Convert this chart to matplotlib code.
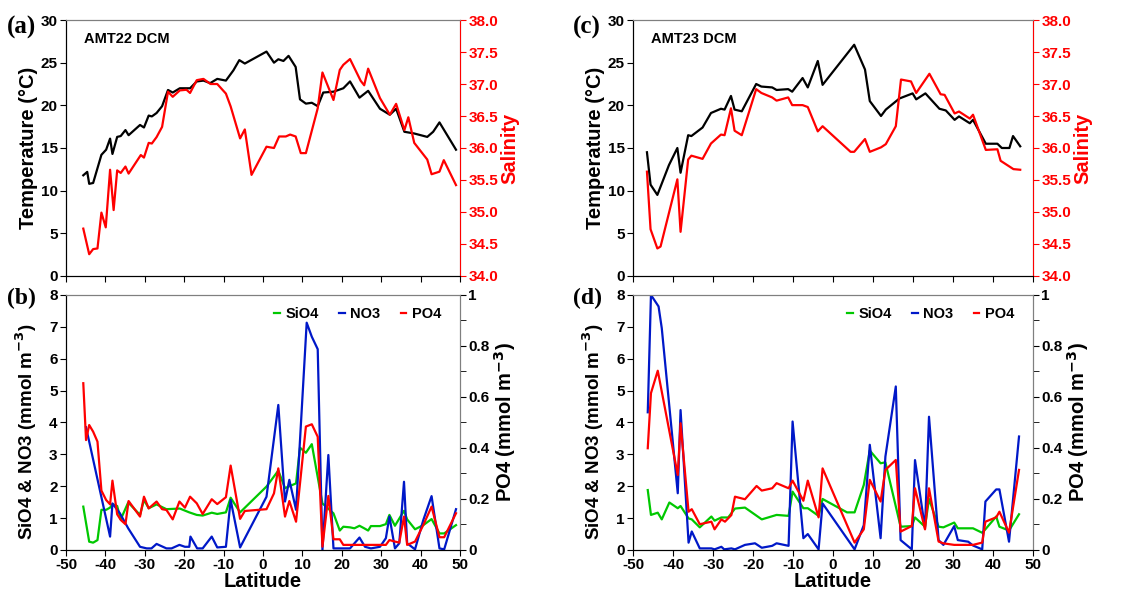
import numpy as np
import matplotlib
matplotlib.use("Agg")
import matplotlib.pyplot as plt
from matplotlib.ticker import MultipleLocator, FormatStrFormatter, FuncFormatter

plt.rcParams["font.family"] = ["Liberation Sans", "DejaVu Sans"]
plt.rcParams["font.weight"] = "bold"
plt.rcParams["axes.unicode_minus"] = False
plt.rcParams["mathtext.default"] = "bf"

# ---- AMT22 DCM: temperature / salinity ----
lat22_t = [-45.6, -44.6, -44.1, -43.1, -41.0, -39.8, -38.8, -38.2, -37.0, -36.1, -34.9, -34.1,
           -31.2, -30.2, -29.0, -28.2, -27.0, -25.6, -24.1, -22.9, -21.1, -18.5, -16.8, -15.1,
           -13.4, -11.6, -10.5, -9.4, -7.5, -6.0, -4.6, 0.9, 2.8, 3.9, 5.2, 6.5, 8.3, 9.4, 10.9,
           12.4, 13.9, 15.3, 17.9, 20.4, 22.1, 24.5, 26.7, 29.7, 32.2, 33.8, 35.9, 38.4, 41.7,
           43.2, 44.8, 49.0]
temp22 = [11.8, 12.2, 10.8, 10.9, 14.2, 14.8, 16.1, 14.3, 16.3, 16.4, 17.1, 16.5,
          17.7, 17.4, 18.8, 18.7, 19.1, 19.9, 21.8, 21.5, 22.0, 22.0, 22.8, 22.9,
          22.6, 23.1, 23.0, 22.9, 24.1, 25.3, 24.9, 26.3, 25.0, 25.4, 25.2, 25.8, 24.5, 20.7, 20.2,
          20.3, 19.9, 21.5, 21.6, 22.0, 22.8, 20.9, 21.7, 19.6, 18.9, 19.6, 16.9, 16.7, 16.3,
          16.9, 18.0, 14.8]

lat22_s = [-45.6, -44.1, -43.1, -42.0, -41.0, -39.9, -38.8, -37.9, -37.0, -36.1, -34.9, -34.1,
           -31.0, -30.2, -29.0, -28.2, -27.0, -25.6, -24.1, -22.9, -21.1, -19.4, -18.5, -16.8,
           -15.1, -13.3, -11.6, -9.4, -8.2, -5.8, -4.6, -2.9, 0.9, 1.8, 2.8, 4.1, 5.8, 6.9, 8.3,
           9.6, 10.9, 13.9, 15.1, 17.9, 19.5, 20.4, 22.1, 24.8, 25.7, 26.7, 29.7, 32.2, 33.8,
           35.9, 36.9, 38.4, 41.7, 42.8, 44.8, 45.9, 49.0]
sal22 = [34.74, 34.34, 34.42, 34.43, 34.99, 34.76, 35.66, 35.03, 35.65, 35.61, 35.71, 35.60,
         35.89, 35.85, 36.08, 36.07, 36.17, 36.33, 36.88, 36.80, 36.90, 36.91, 36.86, 37.06,
         37.08, 37.00, 37.00, 36.85, 36.65, 36.15, 36.29, 35.58, 36.02, 36.01, 36.00, 36.18,
         36.18, 36.21, 36.18, 35.92, 35.92, 36.62, 37.18, 36.75, 37.22, 37.30, 37.39, 37.05,
         36.98, 37.24, 36.78, 36.52, 36.69, 36.28, 36.48, 36.08, 35.82, 35.59, 35.63, 35.81,
         35.42]

# ---- AMT22 DCM: nutrients ----
lat22_no3 = [-44.9, -38.8, -38.2, -36.3, -34.2, -31.2, -29.5, -28.3, -27.0, -24.5, -23.2, -21.2,
             -19.8, -18.7, -18.4, -16.7, -15.3, -13.0, -11.6, -9.4, -8.2, -5.8, 0.9, 3.9, 5.6,
             6.7, 8.4, 11.1, 12.4, 13.9, 15.1, 16.6, 17.9, 22.1, 24.5, 25.9, 27.4, 29.7, 31.2,
             32.1, 33.5, 34.6, 35.8, 36.6, 38.6, 40.7, 42.8, 44.8, 46.0, 49.0]
no3_22 = [3.85, 0.42, 1.46, 1.15, 0.68, 0.10, 0.05, 0.05, 0.19, 0.05, 0.05, 0.16,
          0.10, 0.10, 0.42, 0.05, 0.05, 0.42, 0.08, 0.10, 1.57, 0.08, 1.67, 4.55, 1.52,
          2.20, 1.26, 7.13, 6.69, 6.30, 0.00, 2.98, 0.05, 0.05, 0.39, 0.10, 0.05, 0.10, 0.37,
          1.05, 0.05, 0.21, 2.14, 0.21, 0.02, 0.94, 1.69, 0.05, 0.02, 1.28]

lat22_si = [-45.6, -44.1, -43.1, -42.0, -41.0, -39.8, -38.8, -38.2, -37.0, -36.1, -34.2, -31.2,
            -30.2, -29.0, -27.0, -24.5, -21.1, -18.7, -16.8, -15.3, -13.0, -11.6, -9.4, -8.2,
            -5.8, 0.9, 3.9, 5.6, 8.4, 9.4, 10.9, 12.4, 15.1, 17.9, 19.5, 20.4, 22.1, 23.2, 24.5,
            25.7, 26.7, 27.4, 29.7, 31.2, 32.1, 33.5, 35.8, 36.6, 38.6, 40.7, 42.8, 44.8, 46.0,
            49.0]
si22 = [1.36, 0.26, 0.23, 0.31, 1.26, 1.26, 1.33, 1.44, 1.38, 0.96, 1.49, 1.10,
        1.57, 1.31, 1.43, 1.28, 1.30, 1.18, 1.10, 1.08, 1.17, 1.13, 1.18, 1.64,
        1.18, 1.99, 2.49, 1.94, 2.09, 3.21, 3.05, 3.32, 1.46, 1.15, 0.61, 0.73, 0.71, 0.68, 0.76,
        0.68, 0.61, 0.75, 0.75, 0.81, 1.10, 0.76, 1.23, 0.96, 0.65, 0.78, 0.97, 0.52, 0.52,
        0.78]

lat22_po4 = [-45.6, -44.9, -44.1, -43.1, -42.0, -41.0, -39.8, -38.8, -38.2, -37.0, -36.1, -34.9,
             -34.1, -31.2, -30.2, -29.0, -27.0, -25.6, -24.5, -22.9, -21.2, -19.8, -18.5, -16.8,
             -15.3, -13.0, -11.6, -9.4, -8.2, -5.8, -4.6, 0.9, 2.8, 3.9, 5.6, 6.7, 8.4, 10.9,
             12.4, 13.9, 15.1, 16.6, 17.9, 19.5, 20.4, 31.2, 32.1, 33.5, 34.6, 35.8, 36.6, 38.6,
             40.7, 42.8, 44.8, 46.0, 49.0]
po4_22 = [0.654, 0.431, 0.490, 0.464, 0.425, 0.233, 0.196, 0.179, 0.272, 0.140, 0.118, 0.101,
          0.192, 0.131, 0.209, 0.163, 0.190, 0.160, 0.157, 0.120, 0.190, 0.166, 0.209, 0.183,
          0.141, 0.199, 0.180, 0.207, 0.331, 0.122, 0.153, 0.160, 0.222, 0.320, 0.131, 0.192,
          0.111, 0.484, 0.493, 0.444, 0.013, 0.212, 0.042, 0.042, 0.020, 0.020, 0.039, 0.033,
          0.029, 0.131, 0.020, 0.033, 0.098, 0.170, 0.050, 0.050, 0.144]

# ---- AMT23 DCM: temperature / salinity ----
lat23_t = [-46.5, -45.6, -43.9, -41.0, -38.9, -38.1, -36.2, -35.4, -32.6, -30.5, -28.0, -27.1,
           -25.5, -24.6, -22.8, -19.2, -17.9, -15.2, -14.1, -11.2, -10.2, -7.6, -6.3, -3.8,
           -2.6, 5.3, 8.0, 9.2, 12.0, 13.2, 16.6, 19.9, 20.8, 23.1, 26.6, 28.2, 30.4, 31.5,
           34.2, 35.0, 38.2, 41.1, 42.2, 44.1, 45.0, 46.8]
temp23 = [14.5, 10.7, 9.5, 13.0, 15.0, 12.1, 16.5, 16.4, 17.4, 19.1, 19.6, 19.5,
          21.1, 19.5, 19.3, 22.5, 22.2, 22.1, 21.8, 21.9, 21.6, 23.2, 22.1, 25.2,
          22.4, 27.1, 24.2, 20.5, 18.75, 19.5, 20.8, 21.4, 20.7, 21.4, 19.6, 19.4, 18.3, 18.7,
          17.9, 18.3, 15.5, 15.5, 15.0, 15.0, 16.4, 15.2]

lat23_s = [-46.5, -45.6, -43.9, -43.1, -38.9, -38.1, -36.2, -35.4, -32.6, -30.5, -28.0, -27.1,
           -25.5, -24.6, -22.8, -19.2, -17.9, -15.2, -14.1, -11.2, -10.2, -7.6, -6.3, -3.8,
           -2.6, 4.4, 5.3, 8.0, 9.2, 12.0, 13.2, 15.7, 17.0, 19.5, 20.8, 24.1, 26.9, 27.9,
           30.4, 31.5, 34.2, 35.0, 38.2, 41.1, 41.9, 45.1, 46.8]
sal23 = [35.63, 34.73, 34.43, 34.46, 35.51, 34.69, 35.82, 35.88, 35.83, 36.07, 36.21, 36.20,
         36.62, 36.27, 36.20, 36.92, 36.86, 36.79, 36.74, 36.79, 36.67, 36.67, 36.64, 36.26,
         36.34, 35.94, 35.94, 36.14, 35.94, 36.01, 36.06, 36.34, 37.07, 37.04, 36.86, 37.16,
         36.84, 36.83, 36.54, 36.57, 36.46, 36.52, 35.97, 35.98, 35.80, 35.67, 35.66]

# ---- AMT23 DCM: nutrients ----
lat23_no3 = [-46.3, -45.5, -43.6, -42.8, -38.8, -38.1, -36.1, -35.3, -33.3, -30.4, -29.6, -27.9,
             -27.2, -25.4, -24.5, -22.0, -19.5, -17.8, -15.2, -14.1, -11.1, -10.1, -7.4, -6.3,
             -3.6, -2.6, 5.4, 7.7, 9.2, 11.9, 13.1, 15.7, 16.9, 19.7, 20.5, 23.0, 24.0, 26.4,
             27.6, 30.3, 31.2, 33.8, 35.0, 37.3, 38.1, 40.8, 41.6, 44.0, 46.5]
no3_23 = [4.32, 8.00, 7.64, 6.96, 1.78, 4.39, 0.23, 0.58, 0.05, 0.05, 0.02, 0.10,
          0.02, 0.05, 0.02, 0.16, 0.21, 0.07, 0.13, 0.21, 0.13, 4.03, 0.37, 0.50,
          0.02, 1.46, 0.02, 0.78, 3.30, 0.37, 2.93, 5.13, 0.31, 0.02, 2.82, 0.68, 4.18, 0.31,
          0.16, 0.75, 0.31, 0.26, 0.14, 0.02, 1.52, 1.90, 1.90, 0.26, 3.56]

lat23_si = [-46.3, -45.5, -43.8, -42.8, -40.9, -38.8, -38.1, -36.1, -35.3, -33.3, -30.4, -29.6,
            -27.9, -26.2, -24.5, -22.0, -17.8, -14.1, -11.1, -10.1, -7.4, -6.3, -3.6, -2.6,
            3.5, 5.4, 7.7, 9.2, 11.9, 13.1, 16.9, 19.7, 20.5, 23.0, 24.0, 26.4, 27.6, 30.3,
            31.2, 33.8, 35.0, 37.3, 38.1, 40.8, 41.6, 44.0, 46.5]
si23 = [1.88, 1.10, 1.17, 0.96, 1.49, 1.31, 1.38, 0.99, 0.96, 0.71, 1.05, 0.92,
        1.02, 1.02, 1.30, 1.33, 0.96, 1.10, 1.07, 1.83, 1.31, 1.31, 1.07, 1.60,
        1.18, 1.18, 2.04, 3.12, 2.72, 2.75, 0.73, 0.75, 1.02, 0.73, 1.60, 0.73, 0.71, 0.86,
        0.68, 0.68, 0.68, 0.54, 0.65, 1.05, 0.73, 0.61, 1.12]

lat23_po4 = [-46.3, -45.5, -43.8, -38.8, -38.1, -36.1, -35.3, -33.3, -30.4, -29.6, -27.9, -27.0,
             -25.4, -24.5, -22.0, -19.1, -17.8, -15.2, -14.1, -11.1, -10.1, -7.4, -6.3, -3.6,
             -2.6, 5.4, 7.7, 9.2, 11.9, 13.1, 15.7, 16.9, 19.7, 20.5, 23.0, 24.0, 26.4, 27.6,
             30.3, 33.8, 35.0, 37.3, 38.1, 40.8, 41.6, 44.0, 46.5]
po4_23 = [0.399, 0.615, 0.703, 0.294, 0.497, 0.150, 0.160, 0.101, 0.111, 0.081, 0.120, 0.111,
          0.137, 0.209, 0.199, 0.251, 0.233, 0.242, 0.262, 0.242, 0.272, 0.193, 0.272, 0.128,
          0.320, 0.029, 0.081, 0.275, 0.190, 0.314, 0.353, 0.072, 0.094, 0.242, 0.081, 0.242,
          0.033, 0.026, 0.020, 0.020, 0.020, 0.029, 0.111, 0.128, 0.150, 0.068, 0.314]

LW = 1.6
GREEN = "#00c800"
BLUE = "#0018c8"
RED = "#ff0000"
GRAY = "#7f7f7f"
TICK_FS = 11
LABEL_FS = 14.5


def style_x(ax, labels):
    ax.set_xlim(-50, 50)
    ax.xaxis.set_major_locator(MultipleLocator(10))
    ax.tick_params(axis="x", direction="out", length=4, labelsize=TICK_FS,
                   labelbottom=labels, pad=2)
    for s in ["top", "right"]:
        ax.spines[s].set_color(GRAY)


def temp_sal_panel(ax, lat_t, temp, lat_s, sal, name, letter):
    ax.plot(lat_t, temp, color="black", lw=LW)
    ax.set_ylim(0, 30)
    ax.yaxis.set_major_locator(MultipleLocator(5))
    ax.tick_params(axis="y", direction="out", length=4, labelsize=TICK_FS, pad=2)
    ax.set_ylabel("Temperature (°C)", fontsize=LABEL_FS, fontweight="bold", labelpad=2)
    style_x(ax, False)
    ax.text(0.045, 0.955, name, transform=ax.transAxes, fontsize=10.5,
            fontweight="bold", va="top")
    ax.text(-0.15, 0.97, letter, transform=ax.transAxes, fontsize=18,
            fontweight="bold", va="center", family="Liberation Serif")

    ax2 = ax.twinx()
    ax2.plot(lat_s, sal, color=RED, lw=LW)
    ax2.set_ylim(34, 38)
    ax2.yaxis.set_major_locator(MultipleLocator(0.5))
    ax2.yaxis.set_major_formatter(FormatStrFormatter("%.1f"))
    ax2.tick_params(axis="y", direction="out", length=4, labelsize=TICK_FS,
                    colors=RED, pad=2)
    ax2.spines["right"].set_color(RED)
    ax2.spines["top"].set_color(GRAY)
    ax2.set_ylabel("Salinity", fontsize=LABEL_FS, fontweight="bold", color=RED,
                   labelpad=2)


def po4_fmt(v, pos):
    return "%g" % round(v, 1)


def nutrient_panel(ax, lat_si, si, lat_no3, no3, lat_po4, po4, letter):
    h1, = ax.plot(lat_si, si, color=GREEN, lw=LW, label="SiO4")
    h2, = ax.plot(lat_no3, no3, color=BLUE, lw=LW, label="NO3")
    ax.set_ylim(0, 8)
    ax.yaxis.set_major_locator(MultipleLocator(1))
    ax.tick_params(axis="y", direction="out", length=4, labelsize=TICK_FS, pad=2)
    ax.set_ylabel("SiO4 & NO3 (mmol m$^{-3}$)", fontsize=13.5,
                  fontweight="bold", labelpad=2)
    ax.yaxis.set_label_coords(-0.068, 0.465)
    ax.set_xlabel("Latitude", fontsize=LABEL_FS, fontweight="bold", labelpad=0)
    style_x(ax, True)
    ax.text(-0.15, 0.985, letter, transform=ax.transAxes, fontsize=17,
            fontweight="bold", va="center", family="Liberation Serif")

    ax2 = ax.twinx()
    h3, = ax2.plot(lat_po4, po4, color=RED, lw=LW, label="PO4")
    ax2.set_ylim(0, 1)
    ax2.yaxis.set_major_locator(MultipleLocator(0.2))
    ax2.yaxis.set_minor_locator(MultipleLocator(0.1))
    ax2.yaxis.set_major_formatter(FuncFormatter(po4_fmt))
    ax2.tick_params(axis="y", which="both", direction="out", length=4,
                    labelsize=TICK_FS, pad=2)
    ax2.spines["right"].set_color(GRAY)
    ax2.spines["top"].set_color(GRAY)
    ax2.set_ylabel("PO4 (mmol m$^{-3}$)", fontsize=LABEL_FS,
                   fontweight="bold", labelpad=2)
    leg = ax.legend(handles=[h1, h2, h3], ncol=3, loc="upper right",
                    frameon=False, handlelength=0.4, handletextpad=0.35,
                    columnspacing=1.4, fontsize=10.5, bbox_to_anchor=(0.985, 1.005))
    for t in leg.get_texts():
        t.set_fontweight("bold")


fig = plt.figure(figsize=(11.45, 5.94), dpi=100)

ax_a = fig.add_axes([0.0576, 0.5354, 0.3441, 0.4309])
ax_b = fig.add_axes([0.0576, 0.0741, 0.3441, 0.4293])
ax_c = fig.add_axes([0.5528, 0.5354, 0.3494, 0.4309])
ax_d = fig.add_axes([0.5528, 0.0741, 0.3494, 0.4293])

temp_sal_panel(ax_a, lat22_t, temp22, lat22_s, sal22, "AMT22 DCM", "(a)")
nutrient_panel(ax_b, lat22_si, si22, lat22_no3, no3_22, lat22_po4, po4_22, "(b)")
temp_sal_panel(ax_c, lat23_t, temp23, lat23_s, sal23, "AMT23 DCM", "(c)")
nutrient_panel(ax_d, lat23_si, si23, lat23_no3, no3_23, lat23_po4, po4_23, "(d)")

fig.savefig("out.png", dpi=100)
